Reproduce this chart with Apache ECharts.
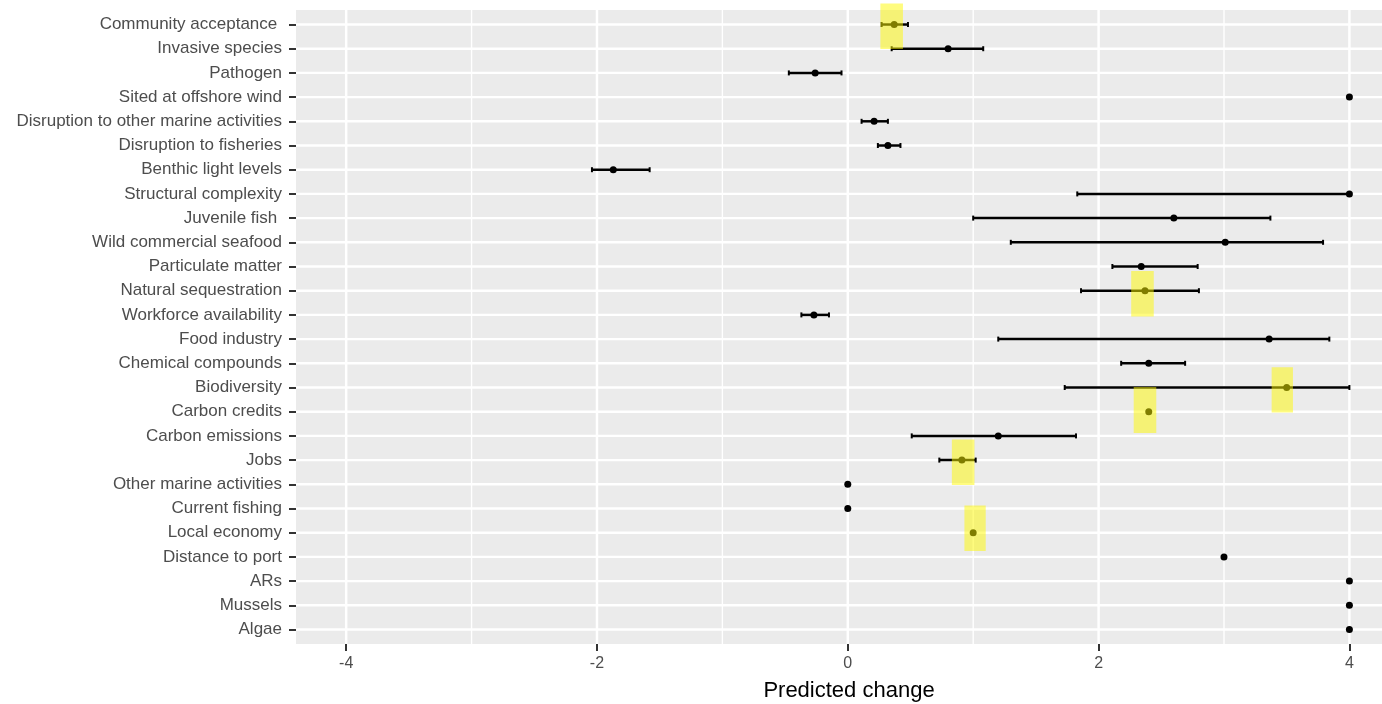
<!DOCTYPE html>
<html>
<head>
<meta charset="utf-8">
<script src="https://cdn.jsdelivr.net/npm/echarts@6.0.0/dist/echarts.min.js"></script>
<style>
html,body{margin:0;padding:0;background:#fff;}
#chart{width:1382px;height:704px;}
</style>
</head>
<body>
<div id="chart"></div>
<script>
// ---- data ----
const categories = [
  'Community acceptance ', 'Invasive species', 'Pathogen', 'Sited at offshore wind',
  'Disruption to other marine activities', 'Disruption to fisheries', 'Benthic light levels',
  'Structural complexity', 'Juvenile fish ', 'Wild commercial seafood', 'Particulate matter',
  'Natural sequestration', 'Workforce availability', 'Food industry', 'Chemical compounds',
  'Biodiversity', 'Carbon credits', 'Carbon emissions', 'Jobs', 'Other marine activities',
  'Current fishing', 'Local economy', 'Distance to port', 'ARs', 'Mussels', 'Algae'
];
const estimate = [0.37, 0.80, -0.26, 4.0, 0.21, 0.32, -1.87, 4.0, 2.60, 3.01, 2.34, 2.37, -0.27,
  3.36, 2.40, 3.50, 2.40, 1.20, 0.91, 0, 0, 1.0, 3.0, 4.0, 4.0, 4.0];
const lower = [0.27, 0.35, -0.47, null, 0.11, 0.24, -2.04, 1.83, 1.00, 1.30, 2.11, 1.86, -0.37,
  1.20, 2.18, 1.73, null, 0.51, 0.73, null, null, null, null, null, null, null];
const upper = [0.48, 1.08, -0.05, null, 0.32, 0.42, -1.58, 4.0, 3.37, 3.79, 2.79, 2.80, -0.15,
  3.84, 2.69, 4.0, null, 1.82, 1.02, null, null, null, null, null, null, null];

// highlighted boxes (x range in predicted change, y range in category-index units)
const highlightXFrom = [0.26, 2.26, 3.38, 2.28, 0.83, 0.93];
const highlightXTo   = [0.44, 2.44, 3.55, 2.46, 1.01, 1.10];
const highlightYFrom = [-0.87, 10.19, 14.16, 14.98, 17.15, 19.88];
const highlightYTo   = [1.01, 12.07, 16.03, 16.88, 19.03, 21.76];

const xTicks = [-4, -2, 0, 2, 4];
const xMinorGrid = [-3, -1, 1, 3];
const xMin = -4.4, xMax = 4.26;   // panel is cut off at the right edge of the picture
const yMin = -0.6, yMax = categories.length - 1 + 0.6;

// ---- chart ----
const FONT = '"Liberation Sans", Arial, sans-serif';
const chart = echarts.init(document.getElementById('chart'), null, {renderer: 'canvas'});
const catIdx = categories.map((c, i) => i);

function vline(width) {
  return function (params, api) {
    const v = api.value(0);
    const p1 = api.coord([v, yMin]);
    const p2 = api.coord([v, yMax]);
    return {type: 'line', shape: {x1: p1[0], y1: p1[1], x2: p2[0], y2: p2[1]},
      style: {stroke: '#ffffff', lineWidth: width}, silent: true};
  };
}

const errData = [];
for (let i = 0; i < categories.length; i++) {
  if (lower[i] !== null && upper[i] !== null) errData.push([lower[i], i, upper[i]]);
}
const hlData = highlightXFrom.map((x, k) => [x, highlightYFrom[k], highlightXTo[k], highlightYTo[k]]);

chart.setOption({
  animation: false,
  backgroundColor: '#ffffff',
  grid: {left: 296, right: 0, top: 10, height: 634, outerBoundsMode: 'none', containLabel: false,
    show: true, backgroundColor: '#ebebeb', borderWidth: 0},
  xAxis: {
    type: 'value', min: xMin, max: xMax,
    axisLine: {show: false, onZero: false},
    axisTick: {show: true, customValues: xTicks, length: 7, lineStyle: {color: '#333333', width: 2}},
    axisLabel: {customValues: xTicks, color: '#4d4d4d', fontSize: 16, fontFamily: FONT, margin: 12},
    splitLine: {show: false},
    name: 'Predicted change', nameLocation: 'middle', nameGap: 36,
    nameTextStyle: {color: '#000000', fontSize: 22, fontFamily: FONT, padding: [0, 0, 0, 20]}
  },
  yAxis: {
    type: 'value', inverse: true, min: yMin, max: yMax,
    axisLine: {show: false, onZero: false},
    axisTick: {show: true, customValues: catIdx, length: 7, lineStyle: {color: '#333333', width: 2}},
    axisLabel: {customValues: catIdx, formatter: v => categories[Math.round(v)],
      color: '#4d4d4d', fontSize: 17, fontFamily: FONT, margin: 14},
    splitLine: {show: false}
  },
  series: [
    {type: 'custom', z: 1, silent: true, data: xMinorGrid.map(v => [v, 0]), renderItem: vline(1.4)},
    {type: 'custom', z: 1, silent: true, data: xTicks.map(v => [v, 0]), renderItem: vline(2.5)},
    {type: 'custom', z: 1, silent: true, data: catIdx.map(i => [0, i]),
      renderItem: function (params, api) {
        const i = api.value(1);
        const p1 = api.coord([xMin, i]);
        const p2 = api.coord([xMax, i]);
        return {type: 'line', shape: {x1: p1[0], y1: p1[1], x2: p2[0], y2: p2[1]},
          style: {stroke: '#ffffff', lineWidth: 2.4}, silent: true};
      }},
    {type: 'custom', z: 3, silent: true, data: errData,
      renderItem: function (params, api) {
        const a = api.coord([api.value(0), api.value(1)]);
        const b = api.coord([api.value(2), api.value(1)]);
        const h = 2.5;
        return {type: 'group', children: [
          {type: 'line', shape: {x1: a[0], y1: a[1], x2: b[0], y2: b[1]}, style: {stroke: '#000', lineWidth: 2.5}},
          {type: 'line', shape: {x1: a[0], y1: a[1] - h, x2: a[0], y2: a[1] + h}, style: {stroke: '#000', lineWidth: 2}},
          {type: 'line', shape: {x1: b[0], y1: b[1] - h, x2: b[0], y2: b[1] + h}, style: {stroke: '#000', lineWidth: 2}}
        ]};
      }},
    {type: 'scatter', z: 4, symbol: 'circle', symbolSize: 7, silent: true,
      itemStyle: {color: '#000000', opacity: 1},
      data: estimate.map((v, i) => [v, i])},
    {type: 'custom', z: 5, silent: true, clip: false, data: hlData,
      renderItem: function (params, api) {
        const p1 = api.coord([api.value(0), api.value(1)]);
        const p2 = api.coord([api.value(2), api.value(3)]);
        return {type: 'rect', shape: {x: p1[0], y: p1[1], width: p2[0] - p1[0], height: p2[1] - p1[1]},
          style: {fill: 'rgba(255,250,0,0.5)'}};
      }}
  ]
});
</script>
</body>
</html>
